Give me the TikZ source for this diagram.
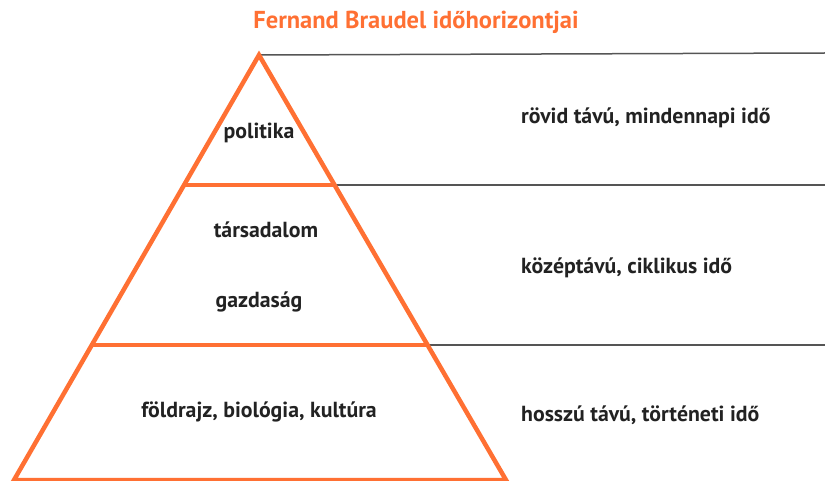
\documentclass[tikz,border=0pt]{standalone}
\usepackage{fontspec}
\setmainfont{PT Sans}
\usetikzlibrary{positioning}
\definecolor{braudelorange}{HTML}{FF7033}
\definecolor{textdark}{HTML}{222222}
\definecolor{linegray}{HTML}{555555}

\begin{document}
\begin{tikzpicture}[x=1pt, y=-1pt,
  layer/.style={draw=braudelorange, line width=4.5pt},
  level/.style={draw=linegray, line width=1.5pt},
  label/.style={font=\bfseries\fontsize{21.8}{26}\selectfont, text=textdark, inner sep=0pt}]

\useasboundingbox (0,0) rectangle (825,481);

% Koordinaten der Pyramide
\coordinate (A) at (259,55);
\coordinate (B) at (14,480);
\coordinate (C) at (506,480);

\coordinate (L1) at (184.5,185);
\coordinate (R1) at (334,185);
\coordinate (L2) at (91.5,345);
\coordinate (R2) at (427,345);

% Rechter Rand
\coordinate (E0) at (825,53);
\coordinate (E1) at (825,185);
\coordinate (E2) at (825,345);

% Titel
\node[font=\bfseries\fontsize{24.5}{29}\selectfont, text=braudelorange, inner sep=0pt] (title) at (416,22) {Fernand Braudel időhorizontjai};

% Horizontale Linien
\draw[level] (A) -- (E0);
\draw[level] (R1) -- (E1);
\draw[level] (R2) -- (E2);

% Pyramide
\draw[layer, line join=miter] (A) -- (C) -- (B) -- cycle;
\draw[layer] (L1) -- (R1);
\draw[layer] (L2) -- (R2);

% Schichten
\node[label] (pol) at (259,133) {politika};
\node[label] (tars) at (266,230) {társadalom};
\node[label] (gazd) at (259,302) {gazdaság};
\node[label] (fold) at (259,412) {földrajz, biológia, kultúra};

% Zeithorizonte
\node[label, anchor=west] (rovid) at (521,118) {rövid távú, mindennapi idő};
\node[label, anchor=west] (kozep) at (521,268) {középtávú, ciklikus idő};
\node[label, anchor=west] (hosszu) at (521,415) {hosszú távú, történeti idő};

\end{tikzpicture}
\end{document}
